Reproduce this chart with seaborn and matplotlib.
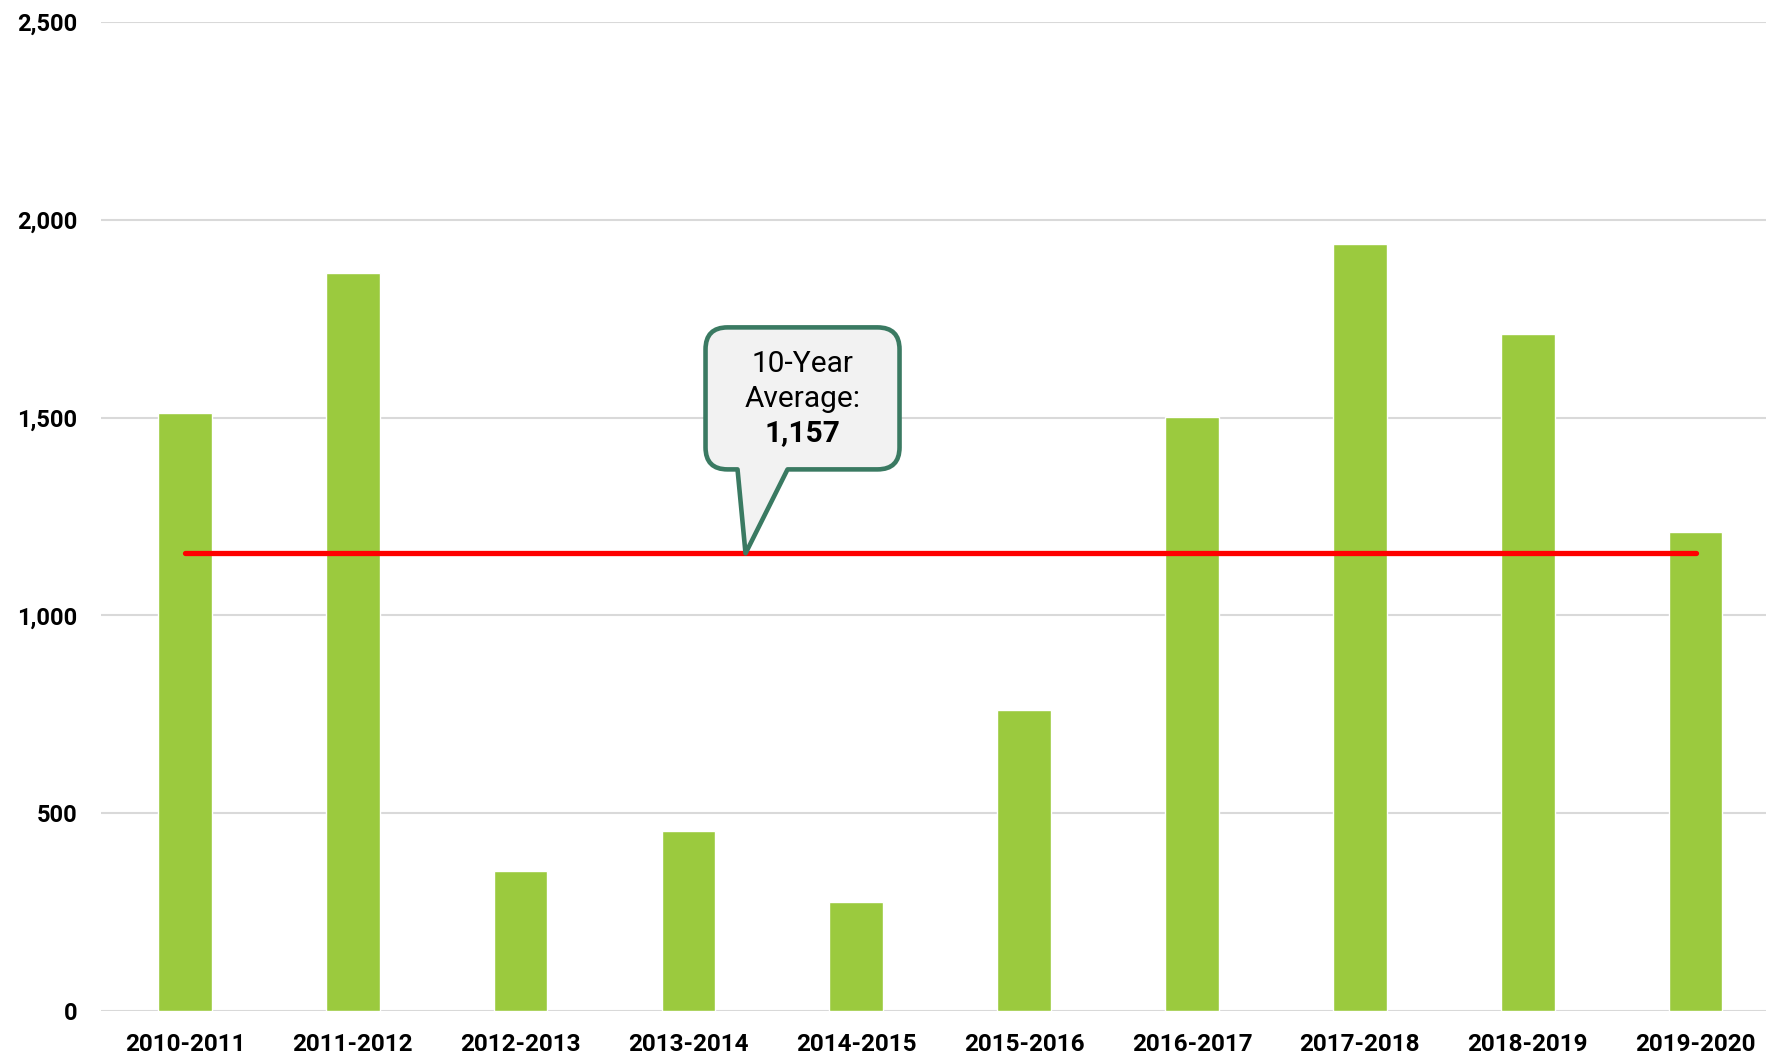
import seaborn as sns
from matplotlib import pyplot as plt
from matplotlib.path import Path
from matplotlib.patches import PathPatch
from matplotlib.transforms import IdentityTransform
import numpy as np

seasons = ['2010-2011', '2011-2012', '2012-2013', '2013-2014', '2014-2015',
           '2015-2016', '2016-2017', '2017-2018', '2018-2019', '2019-2020']
counts = [1512, 1866, 354, 456, 276, 760, 1502, 1938, 1712, 1212]
avg = 1157
avg_label = ['10-Year', 'Average:', '1,157']

sns.set_theme(style='white')
plt.rcParams['font.family'] = ['Roboto', 'DejaVu Sans']

fig = plt.figure(figsize=(17.66, 10.57), dpi=100)
ax = fig.add_axes([0.0572, 0.0435, 0.9428, 0.9355])

sns.barplot(x=seasons, y=counts, color='#9bca3e', width=0.32, saturation=1, ax=ax, zorder=2)
ax.plot([0, len(seasons) - 1], [avg, avg], color='#ff0000', lw=3.8,
        solid_capstyle='round', zorder=3)

ax.set_ylim(0, 2500)
ax.set_xlim(-0.5, 9.42)
ax.set_yticks(np.arange(0, 2501, 500))
ax.set_yticklabels([f'{v:,}' for v in range(0, 2501, 500)])
ax.grid(axis='y', color='#d9d9d9', lw=1.5, zorder=0)
ax.set_axisbelow(True)
for s in ax.spines.values():
    s.set_visible(False)
ax.tick_params(axis='y', length=0, pad=17, labelsize=17)
ax.tick_params(axis='x', length=0, pad=16, labelsize=17.5)
for lab in ax.get_xticklabels() + ax.get_yticklabels():
    lab.set_fontweight('bold')
    lab.set_color('black')
ax.set_xlabel('')
ax.set_ylabel('')

# callout bubble, pixel offsets from the tip on the average line
fig.canvas.draw()
tx, ty = ax.transData.transform((3.34, avg))
L, R, B, T, r = tx - 40, tx + 154, ty + 84, ty + 226, 22
b0, b1 = tx - 8, tx + 42
verts = [(b1, B), (R - r, B), (R, B), (R, B + r), (R, T - r), (R, T), (R - r, T),
         (L + r, T), (L, T), (L, T - r), (L, B + r), (L, B), (L + r, B),
         (b0, B), (tx, ty), (b1, B)]
codes = [Path.MOVETO, Path.LINETO, Path.CURVE3, Path.CURVE3, Path.LINETO, Path.CURVE3, Path.CURVE3,
         Path.LINETO, Path.CURVE3, Path.CURVE3, Path.LINETO, Path.CURVE3, Path.CURVE3,
         Path.LINETO, Path.LINETO, Path.CLOSEPOLY]
bubble = PathPatch(Path(verts, codes), facecolor='#f2f2f2', edgecolor='#3a7a62', lw=3.3,
                   transform=IdentityTransform(), zorder=5, joinstyle='round')
fig.patches.append(bubble)
bubble.set_figure(fig)

cx = (L + R) / 2 / fig.bbox.width
for i, line in enumerate(avg_label):
    cy = (T - 37 - 34.5 * i) / fig.bbox.height
    fig.text(cx, cy, line, ha='center', va='center', fontsize=21.5, color='black',
             fontweight='bold' if i == 2 else 'normal', zorder=6)

fig.savefig('out.png', dpi=100)
